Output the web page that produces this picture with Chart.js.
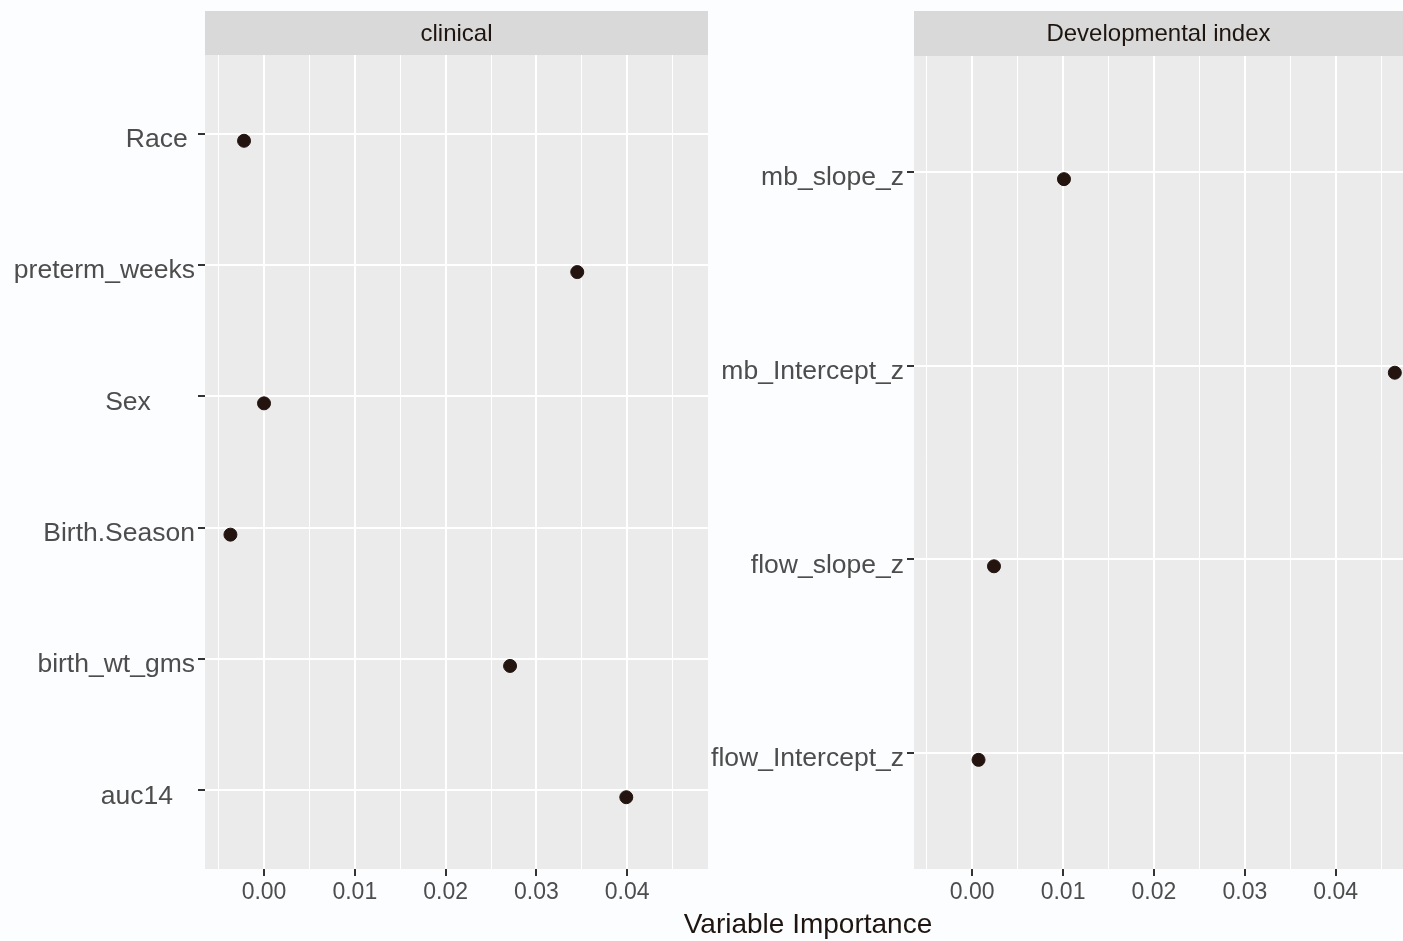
<!DOCTYPE html>
<html>
<head>
<meta charset="utf-8">
<script src="https://cdn.jsdelivr.net/npm/chart.js@4.4.1/dist/chart.umd.min.js"></script>
<style>
  html, body { margin: 0; padding: 0; background: #fcfdff; }
  body { width: 1403px; height: 941px; overflow: hidden; position: relative; }
  canvas { position: absolute; top: 0; }
  #xTitle {
    position: absolute; left: 508px; width: 600px; top: 908px;
    text-align: center; font: 28px "Liberation Sans", Arial, sans-serif; color: #1e1510;
  }
</style>
</head>
<body>
<canvas id="clinicalChart" width="708" height="941" style="left:0px"></canvas>
<canvas id="devChart" width="695" height="941" style="left:708px"></canvas>
<div id="xTitle">Variable Importance</div>

<script>
// dữ liệu
const clinicalVars = ['Race ', 'preterm_weeks', 'Sex      ', 'Birth.Season', 'birth_wt_gms', 'auc14   '];
const clinicalImp = [-0.0022, 0.0345, 0.0000, -0.0037, 0.0271, 0.0399];

const devVars = ['mb_slope_z', 'mb_Intercept_z', 'flow_slope_z', 'flow_Intercept_z'];
const devImp = [0.0101, 0.0465, 0.0024, 0.0007];

const xMajorTicks = [0, 0.01, 0.02, 0.03, 0.04];
const xMinorTicks = [-0.005, 0.005, 0.015, 0.025, 0.035, 0.045];

const FONT = '"Liberation Sans", Arial, sans-serif';

// nền panel + dải tiêu đề
const panelPlugin = {
    id: 'panel',
    beforeDraw(chart, args, opts) {
        const { ctx, chartArea } = chart;
        ctx.save();
        ctx.fillStyle = '#ebebeb';
        ctx.fillRect(chartArea.left, chartArea.top, chartArea.right - chartArea.left, chartArea.bottom - chartArea.top);
        ctx.fillStyle = '#d9d9d9';
        ctx.fillRect(chartArea.left, 11, chartArea.right - chartArea.left, chartArea.top - 11);
        ctx.fillStyle = '#1e1510';
        ctx.font = '24px ' + FONT;
        ctx.textAlign = 'center';
        ctx.textBaseline = 'middle';
        ctx.fillText(opts.text, (chartArea.left + chartArea.right) / 2, (11 + chartArea.top) / 2 + 1);
        ctx.restore();
    },
    // điểm lệch xuống một chút như hình gốc
    afterDatasetsUpdate(chart) {
        chart.getDatasetMeta(0).data.forEach(el => { el.y += 7; });
    }
};

function makeChart(id, vars, values, title, yWidth, top, xMin, xMax) {
    const ctx = document.getElementById(id).getContext('2d');
    return new Chart(ctx, {
        type: 'scatter',
        data: {
            datasets: [{
                data: values.map((v, i) => ({ x: v, y: i })),
                backgroundColor: '#24140f',
                borderColor: '#24140f',
                pointRadius: 6.5,
                pointHoverRadius: 6.5
            }]
        },
        options: {
            responsive: false,
            animation: false,
            layout: { autoPadding: false, padding: { top: top, left: 0, right: 0, bottom: 0 } },
            plugins: {
                legend: { display: false },
                tooltip: { enabled: false },
                panel: { text: title }
            },
            scales: {
                x: {
                    type: 'linear',
                    min: xMin,
                    max: xMax,
                    afterBuildTicks: function(scale) {
                        scale.ticks = xMajorTicks.concat(xMinorTicks).sort((a, b) => a - b).map(v => ({ value: v }));
                    },
                    afterFit: function(scale) {
                        scale.height = 72;
                        scale.paddingLeft = 0;
                        scale.paddingRight = 0;
                    },
                    border: { display: false },
                    grid: {
                        color: '#ffffff',
                        lineWidth: c => xMajorTicks.includes(c.tick.value) ? 2 : 1,
                        tickColor: c => xMajorTicks.includes(c.tick.value) ? '#333333' : 'rgba(0,0,0,0)',
                        tickLength: 7,
                        tickWidth: 2
                    },
                    ticks: {
                        autoSkip: false,
                        maxRotation: 0,
                        padding: 3,
                        color: '#4d4d4d',
                        font: { family: FONT, size: 23 },
                        callback: function(value) {
                            return xMajorTicks.includes(value) ? value.toFixed(2) : '';
                        }
                    }
                },
                y: {
                    type: 'linear',
                    reverse: true,
                    min: -0.6,
                    max: vars.length - 1 + 0.6,
                    afterBuildTicks: function(scale) {
                        scale.ticks = vars.map((_, i) => ({ value: i }));
                    },
                    afterFit: function(scale) { scale.width = yWidth; },
                    border: { display: false },
                    grid: {
                        color: '#ffffff',
                        lineWidth: 2,
                        tickColor: '#333333',
                        tickLength: 7,
                        tickWidth: 2
                    },
                    ticks: {
                        autoSkip: false,
                        padding: 3,
                        labelOffset: 6,
                        color: '#4d4d4d',
                        font: { family: FONT, size: 26.5 },
                        callback: function(value) { return vars[value]; }
                    }
                }
            }
        },
        plugins: [panelPlugin]
    });
}

makeChart('clinicalChart', clinicalVars, clinicalImp, 'clinical', 205, 55, -0.0065, 0.0489);
makeChart('devChart', devVars, devImp, 'Developmental index', 206, 56, -0.0064, 0.0474);
</script>
</body>
</html>
